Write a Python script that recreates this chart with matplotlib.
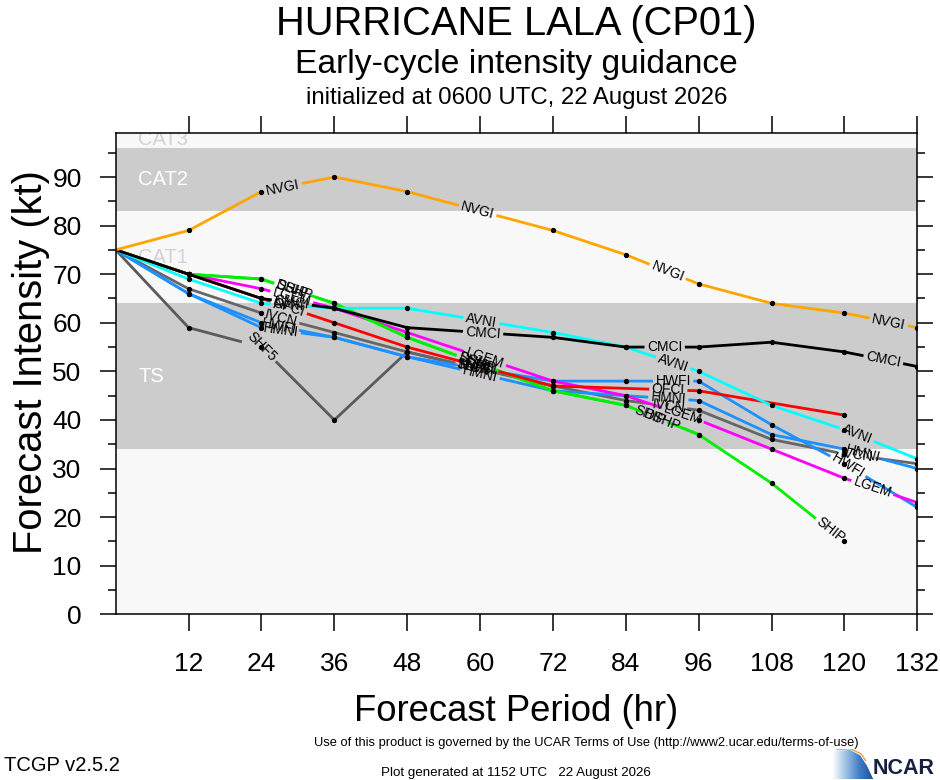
import numpy as np
import matplotlib
matplotlib.use('Agg')
import matplotlib.pyplot as plt
from matplotlib.ticker import MultipleLocator, FixedLocator
from matplotlib.patches import Polygon
from matplotlib.colors import LinearSegmentedColormap

plt.rcParams['font.family'] = ['Liberation Sans', 'DejaVu Sans']

# ---------------- data ----------------
hrs_full = [0, 12, 24, 36, 48, 72, 84, 96, 108, 120, 132]

nvgi_v = [75, 79, 87, 90, 87, 79, 74, 68, 64, 62, 59]
cmci_v = [75, 70, 65, 63, 59, 57, 55, 55, 56, 54, 51]
avni_v = [75, 69, 64, 63, 63, 58, 55, 50, 43, 38, 32]
hwfi_v = [75, 66, 60, 57, 53, 48, 48, 48, 39, 31, 22]
hmni_v = [75, 66, 59, 57, 53, 46, 45, 44, 37, 34, 30]
ivcn_v = [75, 67, 62, 58, 54, 47, 44, 42, 36, 33, 31]
lgem_v = [75, 70, 67, 63, 58, 48, 45, 40, 34, 28, 23]

ship_h = [0, 12, 24, 36, 48, 72, 84, 96, 108, 120]
ship_v = [75, 70, 69, 64, 57, 46, 43, 37, 27, 15]
dshp_h = [0, 12, 24, 36, 48, 72, 84, 96]
dshp_v = [75, 70, 69, 64, 57, 46, 43, 37]
ofci_h = [0, 12, 24, 36, 48, 72, 96, 120]
ofci_v = [75, 70, 65, 60, 55, 47, 46, 41]
shf5_h = [0, 12, 24, 36, 48, 72]
shf5_v = [75, 59, 55, 40, 54, 47]

band_lo = [0, 34, 64, 83, 96]
band_hi = [34, 64, 83, 96, 113]
band_names = ['', 'TS', 'CAT1', 'CAT2', 'CAT3']

x_ticks = [12, 24, 36, 48, 60, 72, 84, 96, 108, 120, 132]

# ---------------- figure ----------------
W, H = 940, 780
fig = plt.figure(figsize=(W / 100, H / 100), dpi=100)
fig.patch.set_facecolor('white')
L, R, T, B = 115.7, 917.3, 133.3, 614.3
ax = fig.add_axes([L / W, 1 - B / H, (R - L) / W, (B - T) / H])
ax.set_xlim(0, 132)
ax.set_ylim(0, 99)

light, gray = '#f8f8f8', '#cccccc'
ax.set_facecolor(light)
band_label_y = [None, 49, 73.5, 89.5, 97.7]
for k, (lo, hi, nm) in enumerate(zip(band_lo, band_hi, band_names)):
    col = gray if k % 2 == 1 else light
    ax.axhspan(lo, hi, color=col, lw=0, zorder=0)
    if nm:
        ax.text(3.7, band_label_y[k], nm, fontsize=14.5,
                color='white' if col == gray else '#d2d2d2',
                ha='left', va='center', zorder=1, clip_on=True)

renderer = fig.canvas.get_renderer()


def draw_model(h, v, color, name, label_at, lw=2.0):
    h = np.asarray(h, float)
    v = np.asarray(v, float)
    P = ax.transData.transform(np.column_stack([h, v]))
    seglen = np.hypot(np.diff(P[:, 0]), np.diff(P[:, 1]))
    s = np.concatenate([[0], np.cumsum(seglen)])
    inv = ax.transData.inverted()
    gaps = []
    for lh in label_at:
        i = int(np.clip(np.searchsorted(h, lh, side='right') - 1, 0, len(h) - 2))
        f = (lh - h[i]) / (h[i + 1] - h[i])
        s0 = s[i] + f * seglen[i]
        c = P[i] + f * (P[i + 1] - P[i])
        ang = np.degrees(np.arctan2(P[i + 1, 1] - P[i, 1], P[i + 1, 0] - P[i, 0]))
        xd, yd = inv.transform(c)
        t = ax.text(xd, yd, name, fontsize=10, ha='center', va='center',
                    rotation=0, rotation_mode='anchor', zorder=6, color='black')
        w = t.get_window_extent(renderer).width
        t.set_rotation(ang)
        gaps.append((s0 - w / 2 - 2.5, s0 + w / 2 + 2.5))
    cuts = sorted(set(list(s) + [g for pr in gaps for g in pr if 0 < g < s[-1]]))
    pieces, cur = [], []
    for a, b in zip(cuts[:-1], cuts[1:]):
        m = 0.5 * (a + b)
        if any(g0 <= m <= g1 for g0, g1 in gaps):
            if cur:
                pieces.append(cur)
            cur = []
            continue
        if not cur:
            cur.append(a)
        cur.append(b)
    if cur:
        pieces.append(cur)
    for pc in pieces:
        pc = np.array(pc)
        xs = np.interp(pc, s, P[:, 0])
        ys = np.interp(pc, s, P[:, 1])
        D = inv.transform(np.column_stack([xs, ys]))
        ax.plot(D[:, 0], D[:, 1], color=color, lw=lw, solid_capstyle='butt',
                solid_joinstyle='round', zorder=3)
    ax.plot(h[1:], v[1:], 'o', color='black', ms=2.8, ls='none', zorder=4)


draw_model(shf5_h, shf5_v, '#5a5a5a', 'SHF5', [24.0, 59.0])
draw_model(hrs_full, ivcn_v, '#666666', 'IVCN', [27.2, 59.0, 91.0, 122.0])
draw_model(hrs_full, hmni_v, '#1e90ff', 'HMNI', [27.2, 60.0, 91.0, 123.0])
draw_model(hrs_full, hwfi_v, '#1e90ff', 'HWFI', [26.9, 59.5, 91.8, 120.6])
draw_model(hrs_full, lgem_v, '#ff00ff', 'LGEM', [29.0, 60.8, 93.4, 124.6])
draw_model(dshp_h, dshp_v, '#00ee00', 'DSHP', [29.5, 59.5, 90.0])
draw_model(ship_h, ship_v, '#00ee00', 'SHIP', [29.0, 59.0, 88.0, 117.7])
draw_model(ofci_h, ofci_v, '#ff0000', 'OFCI', [28.5, 60.0, 91.0])
draw_model(hrs_full, avni_v, '#00ffff', 'AVNI', [28.5, 60.2, 91.8, 122.0])
draw_model(hrs_full, cmci_v, '#000000', 'CMCI', [29.0, 60.5, 90.4, 126.4])
draw_model(hrs_full, nvgi_v, '#ffa500', 'NVGI', [27.5, 59.6, 90.9, 127.3])

# ---------------- axes styling ----------------
for sp in ax.spines.values():
    sp.set_linewidth(1.1)
    sp.set_zorder(7)
ax.xaxis.set_major_locator(FixedLocator(x_ticks))
ax.set_xticklabels([str(x) for x in x_ticks])
ax.yaxis.set_major_locator(MultipleLocator(10))
ax.yaxis.set_minor_locator(MultipleLocator(5))
ax.tick_params(axis='x', which='major', direction='out', length=12.2, width=1.1,
               top=True, bottom=True, labelsize=19, pad=15)
ax.tick_params(axis='y', which='major', direction='out', length=11.5, width=1.1,
               left=True, right=True, labelsize=19, pad=13)
ax.tick_params(axis='y', which='minor', direction='out', length=5.8, width=1.1,
               left=True, right=True)

# ---------------- texts ----------------
cx = (L + R) / 2 / W
fig.text(cx, 1 - 35 / H, 'HURRICANE LALA (CP01)', fontsize=28.7,
         ha='center', va='baseline')
fig.text(cx, 1 - 73 / H, 'Early-cycle intensity guidance', fontsize=24.2,
         ha='center', va='baseline')
fig.text(cx, 1 - 104 / H, 'initialized at 0600 UTC, 22 August 2026', fontsize=17.3,
         ha='center', va='baseline')
fig.text(31 / W, 1 - 362 / H, 'Forecast Intensity (kt)', fontsize=28.7,
         rotation=90, ha='center', va='center')
fig.text(cx, 1 - 721 / H, 'Forecast Period (hr)', fontsize=26.3,
         ha='center', va='baseline')
fig.text(586 / W, 1 - 746 / H,
         'Use of this product is governed by the UCAR Terms of Use (http://www2.ucar.edu/terms-of-use)',
         fontsize=9.3, ha='center', va='baseline')
fig.text(4 / W, 1 - 771 / H, 'TCGP v2.5.2', fontsize=14.5, ha='left', va='baseline')
fig.text(516 / W, 1 - 776 / H, 'Plot generated at 1152 UTC   22 August 2026',
         fontsize=9.6, ha='center', va='baseline')

# ---------------- NCAR logo ----------------
lx0, ly0, lw_, lh_ = 832, 749, 42, 30
lax = fig.add_axes([lx0 / W, 1 - (ly0 + lh_) / H, lw_ / W, lh_ / H])
lax.set_xlim(0, 1)
lax.set_ylim(0, 1)
lax.axis('off')
grad = np.linspace(0, 1, 64)[None, :] * np.ones((16, 1))
cm = LinearSegmentedColormap.from_list('nc', ['#ffffff', '#9cc0e4', '#3f7cc4', '#1a4f9c'])
im = lax.imshow(grad, cmap=cm, extent=[0, 1, 0, 1], aspect='auto', origin='lower')
poly = Polygon([(0.02, 0.93), (0.43, 0.97), (0.67, 0.79), (0.83, 0.45),
                (0.98, 0.0), (0.02, 0.0)], closed=True, transform=lax.transData,
               facecolor='none', edgecolor='none')
lax.add_patch(poly)
im.set_clip_path(poly)
lax.plot([0.12, 0.45, 0.69, 0.8], [0.99, 1.0, 0.84, 0.62], color='#f0a040', lw=1.0)

fig.text(873 / W, 1.2 / H, 'NCAR', fontsize=15.5, fontweight='bold',
         color='#16213f', ha='left', va='bottom', zorder=10)

fig.savefig('out.png', dpi=100, facecolor='white')
